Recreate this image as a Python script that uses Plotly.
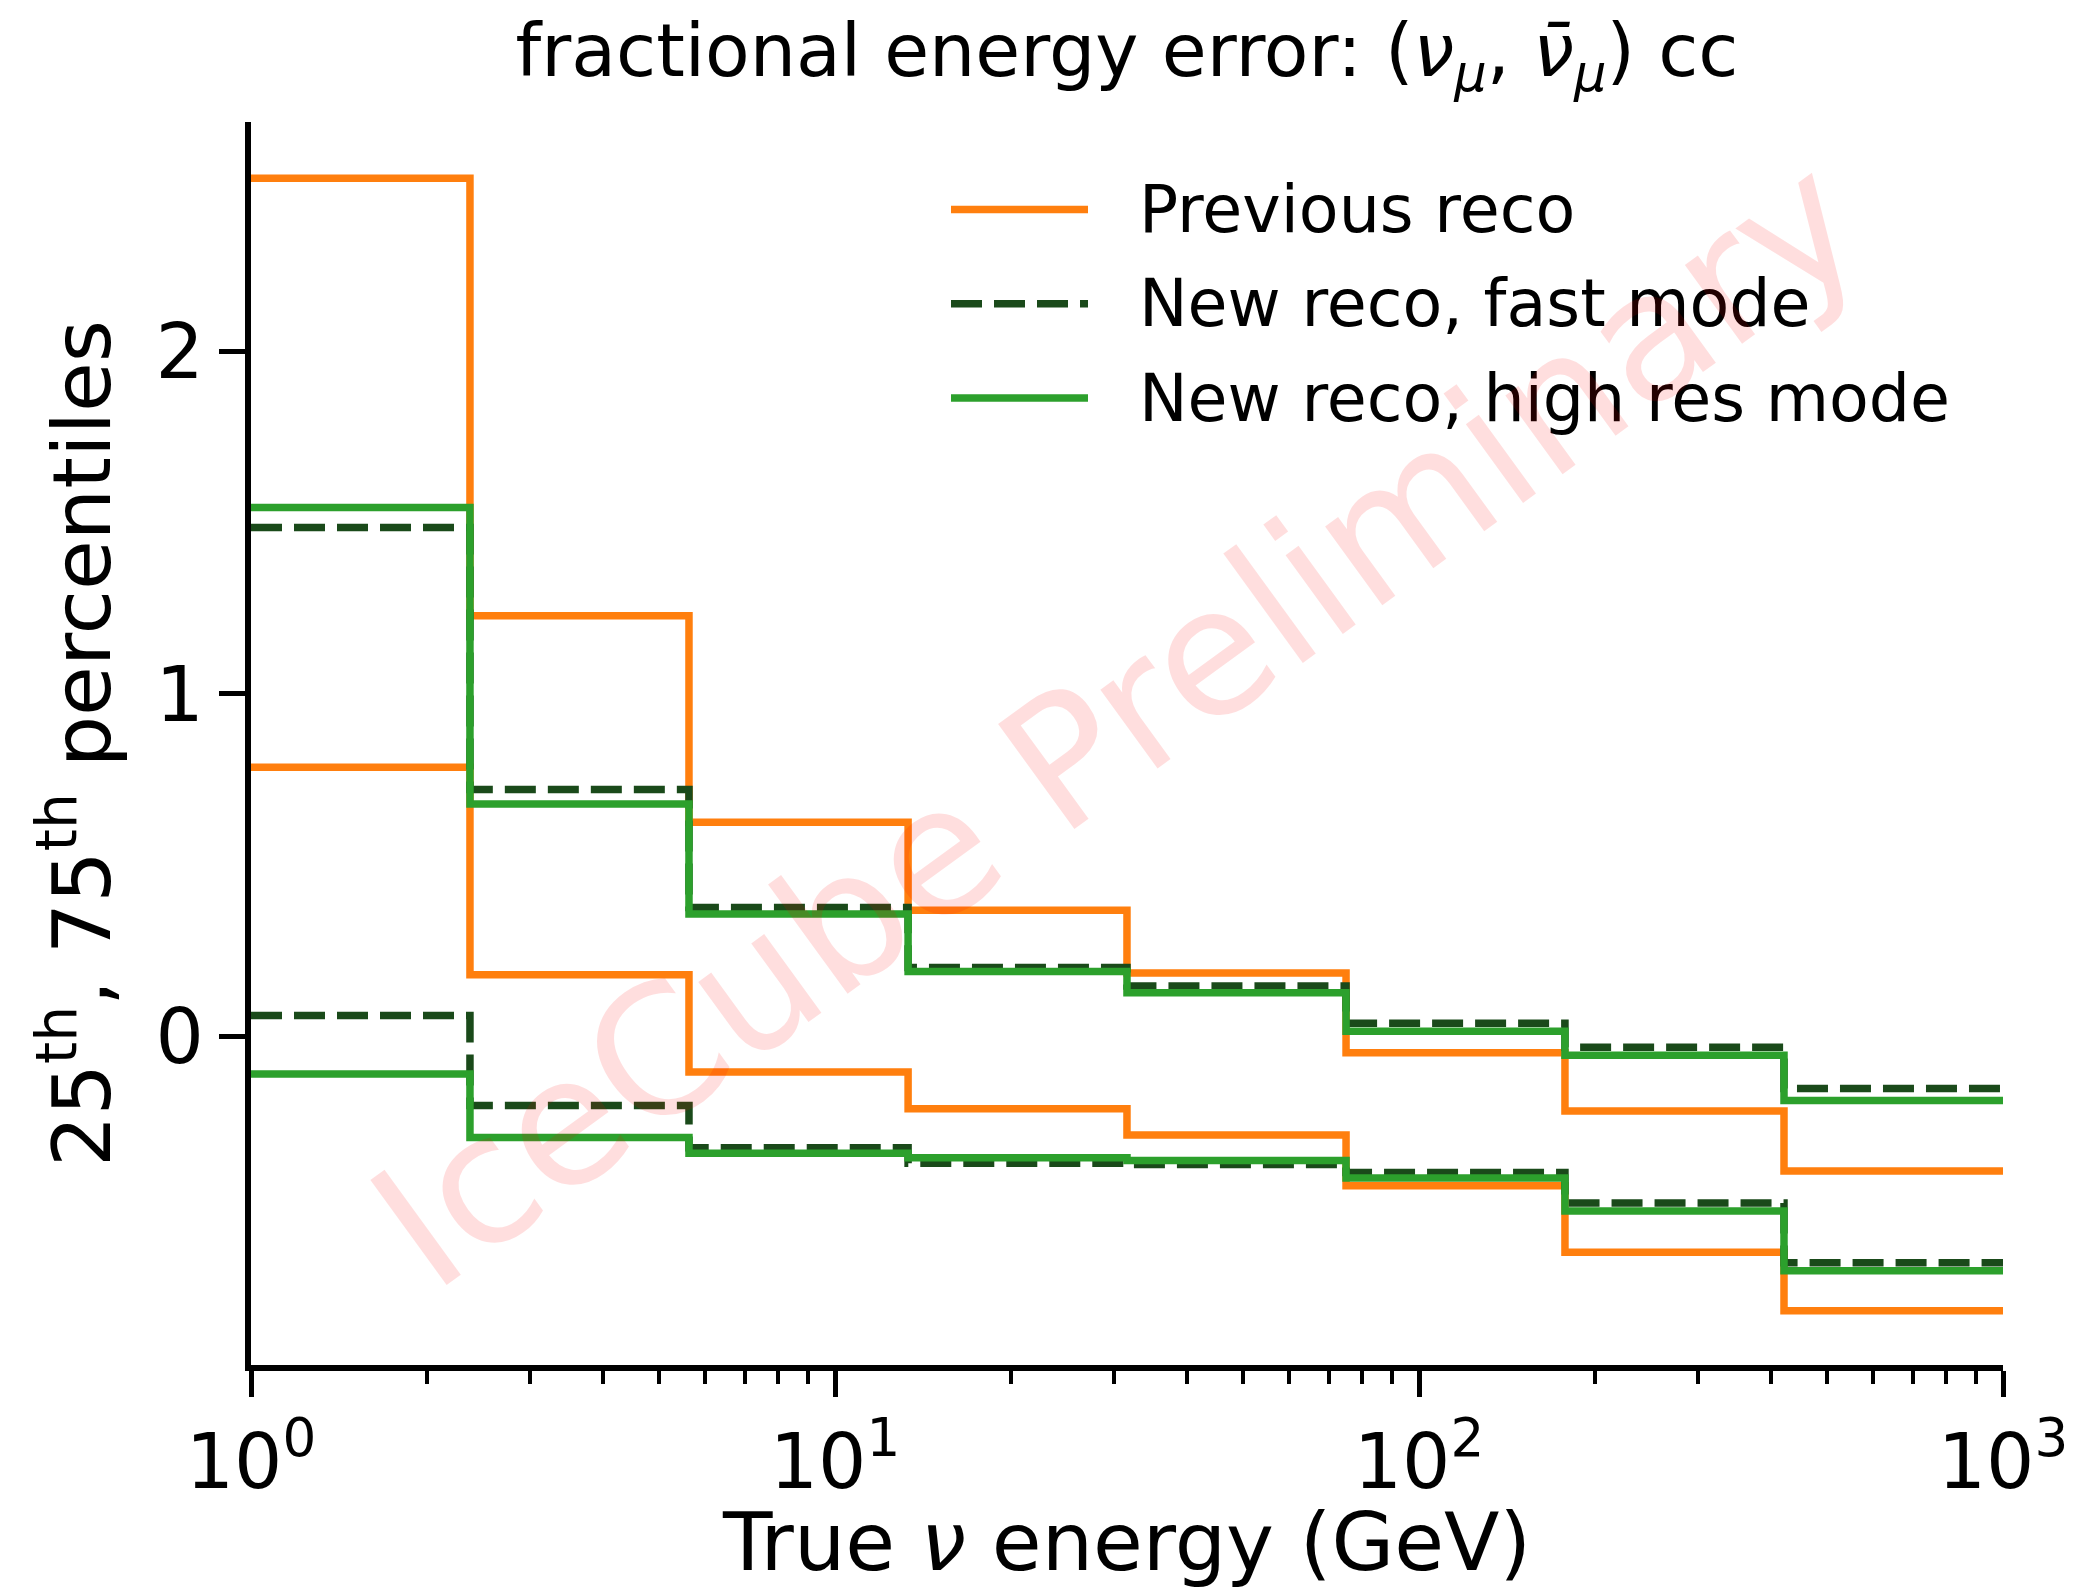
import plotly.graph_objects as go

# Energy bin edges (GeV), log-spaced, 8 bins from 1 to 1000
bin_edges = [1.0, 2.371, 5.623, 13.34, 31.62, 75.0, 177.8, 421.7, 1000.0]

# 75th / 25th percentiles of the fractional energy error per bin
prev_p75 = [2.505, 1.228, 0.626, 0.369, 0.186, -0.047, -0.217, -0.392]
prev_p25 = [0.786, 0.181, -0.103, -0.210, -0.287, -0.435, -0.629, -0.800]
fast_p75 = [1.486, 0.721, 0.377, 0.202, 0.148, 0.039, -0.031, -0.151]
fast_p25 = [0.062, -0.201, -0.324, -0.369, -0.373, -0.396, -0.485, -0.660]
hres_p75 = [1.544, 0.679, 0.358, 0.190, 0.128, 0.016, -0.054, -0.186]
hres_p25 = [-0.109, -0.294, -0.340, -0.353, -0.361, -0.412, -0.509, -0.683]

series_names = ["Previous reco", "New reco, fast mode", "New reco, high res mode"]
series_colors = ["#ff7f0e", "#1a4a1a", "#2ca02c"]
series_dash = ["solid", "31px,12px", "solid"]
LINE_W = 7.5

x_tick_vals = [1, 10, 100, 1000]
x_tick_text = ["10<sup>0</sup>", "10<sup>1</sup>", "10<sup>2</sup>", "10<sup>3</sup>"]
y_tick_vals = [0, 1, 2]
y_tick_text = ["0", "1", "2"]
y_range = [-0.958, 2.669]

FONT = "DejaVu Sans"
FIG_W, FIG_H = 2080, 1589
MARGIN = dict(l=251, r=77, t=122, b=224)
PLOT_W = FIG_W - MARGIN["l"] - MARGIN["r"]
PLOT_H = FIG_H - MARGIN["t"] - MARGIN["b"]


def px_to_paper(px, py):
    return (px - MARGIN["l"]) / PLOT_W, (FIG_H - MARGIN["b"] - py) / PLOT_H


def step(values):
    # repeat the last bin value so the step reaches the final edge
    return list(values) + [values[-1]]


fig = go.Figure()

series = [(prev_p75, prev_p25), (fast_p75, fast_p25), (hres_p75, hres_p25)]
for (hi, lo), name, color, dash in zip(series, series_names, series_colors, series_dash):
    for vals in (hi, lo):
        fig.add_trace(go.Scatter(
            x=bin_edges, y=step(vals), mode="lines", line_shape="hv",
            line=dict(color=color, width=LINE_W, dash=dash),
            name=name, showlegend=False, hoverinfo="skip",
        ))

# Legend drawn by hand so the line samples are long
legend_rows_y = [209.6, 303.8, 398.0]
shapes = []
annotations = []
for name, color, dash, ry in zip(series_names, series_colors, series_dash, legend_rows_y):
    x0, y0 = px_to_paper(951, ry)
    x1, _ = px_to_paper(1088, ry)
    shapes.append(dict(type="line", xref="paper", yref="paper", x0=x0, x1=x1, y0=y0, y1=y0,
                       line=dict(color=color, width=LINE_W, dash=dash)))
    tx, ty = px_to_paper(1137, ry)
    annotations.append(dict(text=name, xref="paper", yref="paper", x=tx, y=ty,
                            xanchor="left", yanchor="middle", showarrow=False,
                            font=dict(family=FONT, size=65, color="black")))

# Watermark
wx, wy = px_to_paper(1116, 722)
annotations.append(dict(text="IceCube Preliminary", xref="paper", yref="paper", x=wx, y=wy,
                        xanchor="center", yanchor="middle", showarrow=False, textangle=-36,
                        font=dict(family=FONT, size=178, color="rgba(255,0,0,0.13)")))

minor_vals = [m * 10 ** d for d in range(3) for m in range(2, 10)]

fig.update_layout(
    width=FIG_W, height=FIG_H, margin=MARGIN,
    paper_bgcolor="white", plot_bgcolor="white",
    showlegend=False,
    font=dict(family=FONT, color="black"),
    title=dict(
        text="fractional energy error: (<i>ν</i><sub><i>μ</i></sub>, <i>ν̄</i><sub><i>μ</i></sub>) cc",
        x=0.5, xref="paper", xanchor="center",
        y=1 - 50 / FIG_H, yref="container", yanchor="middle",
        font=dict(family=FONT, size=73, color="black"),
    ),
    shapes=shapes,
    annotations=annotations,
)

fig.update_xaxes(
    type="log", range=[0, 3],
    tickmode="array", tickvals=x_tick_vals, ticktext=x_tick_text,
    ticks="outside", ticklen=26, tickwidth=5, tickcolor="black",
    tickfont=dict(family=FONT, size=76, color="black"),
    minor=dict(tickmode="array", tickvals=minor_vals, ticks="outside",
               ticklen=13, tickwidth=4, tickcolor="black", showgrid=False),
    showline=True, linewidth=6, linecolor="black", mirror=False,
    showgrid=False, zeroline=False,
    title=dict(text="True <i>ν</i> energy (GeV)", standoff=8,
               font=dict(family=FONT, size=81, color="black")),
)

fig.update_yaxes(
    range=y_range,
    tickmode="array", tickvals=y_tick_vals, ticktext=y_tick_text,
    ticks="outside", ticklen=26, tickwidth=5, tickcolor="black",
    tickfont=dict(family=FONT, size=76, color="black"),
    showline=True, linewidth=6, linecolor="black", mirror=False,
    showgrid=False, zeroline=False,
    title=dict(text="25<sup>th</sup>, 75<sup>th</sup> percentiles", standoff=20,
               font=dict(family=FONT, size=81, color="black")),
)

fig.write_html("out.html")
